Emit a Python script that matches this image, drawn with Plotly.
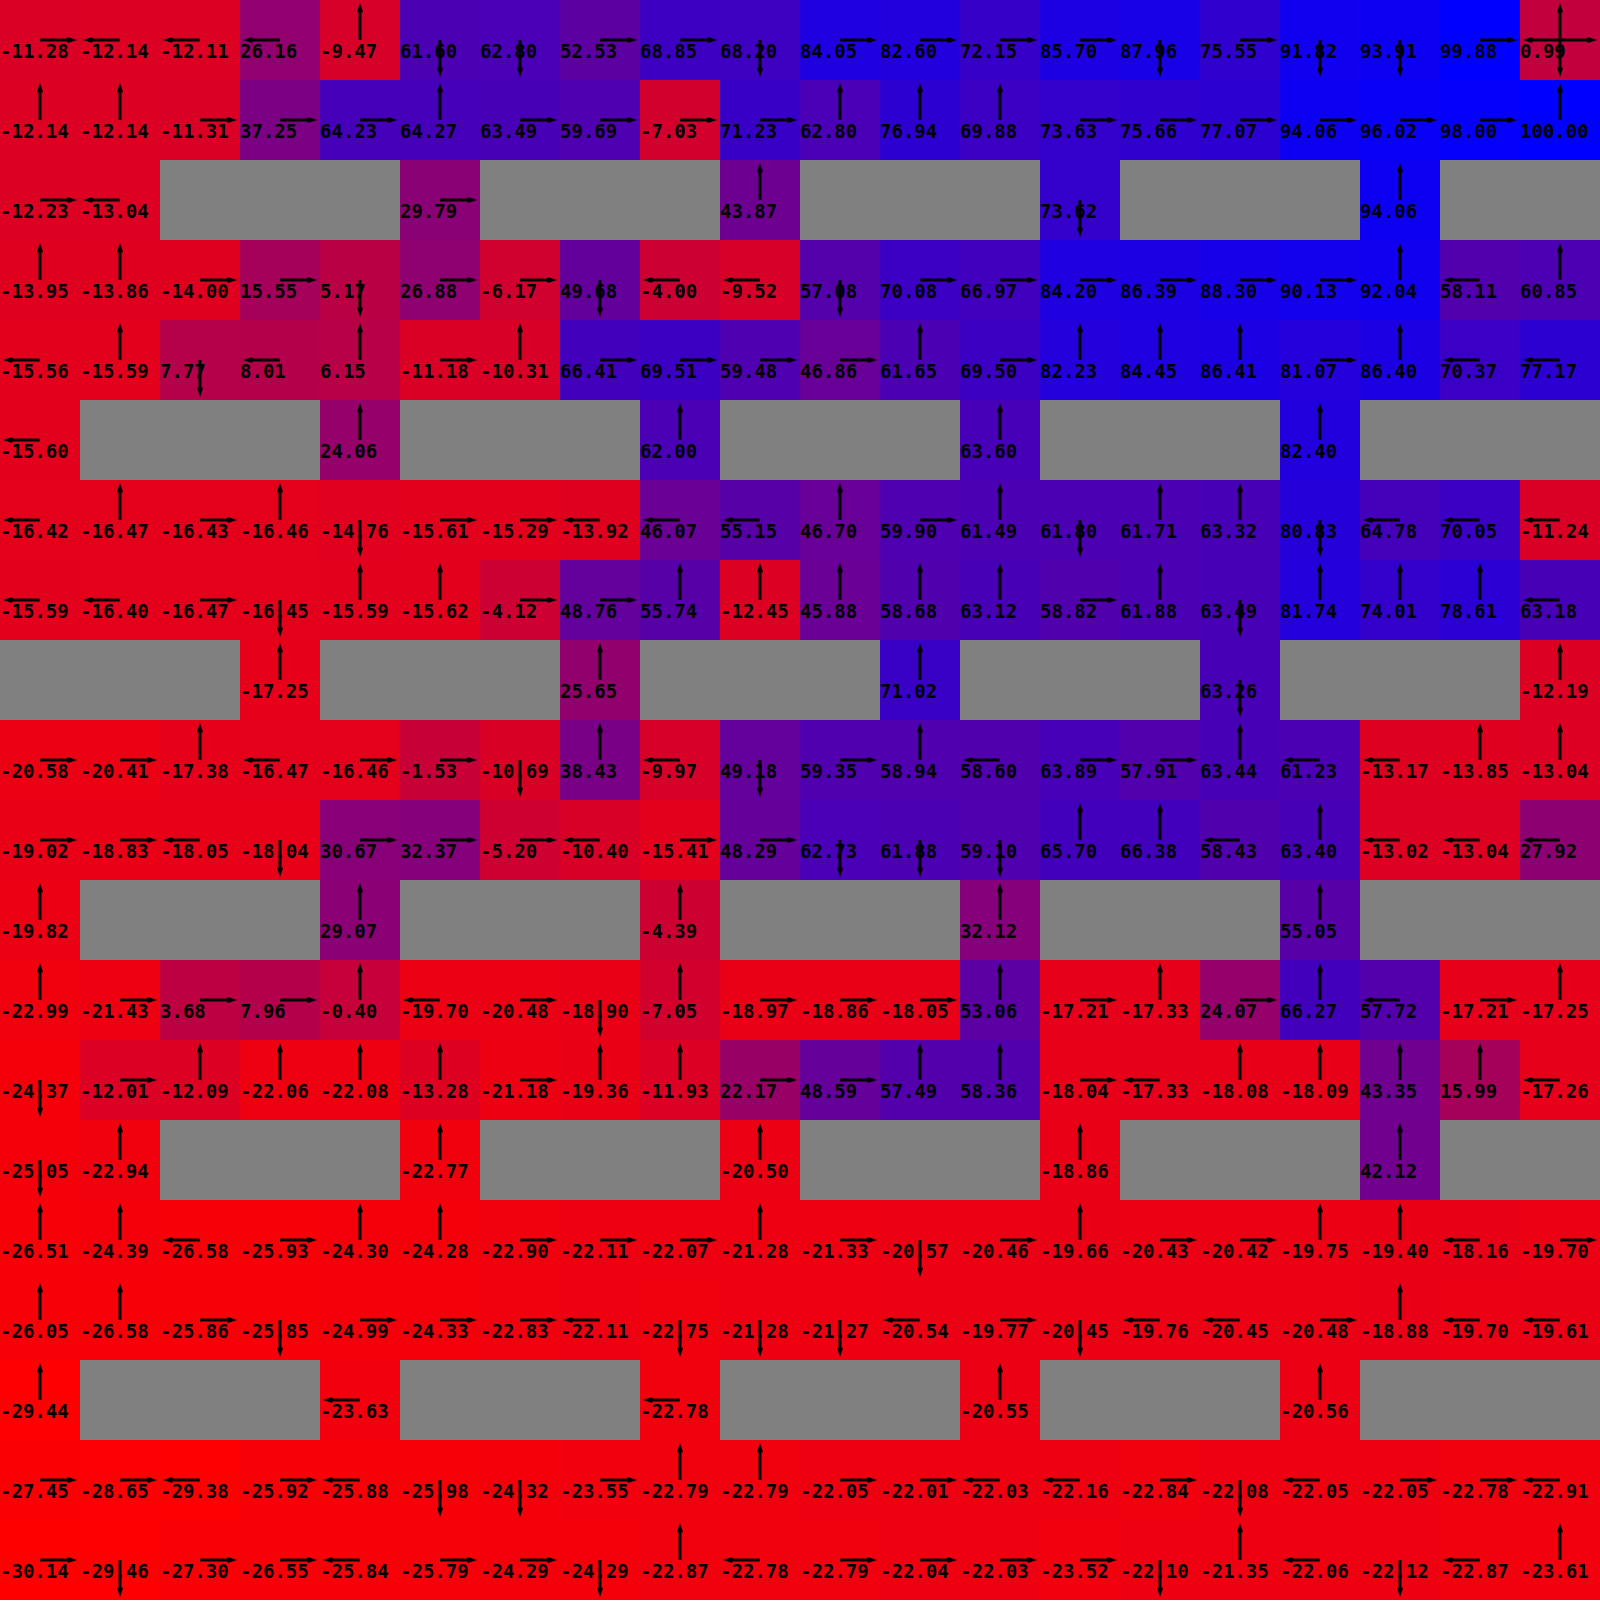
import plotly.graph_objects as go

# State values (None = wall), rows top to bottom
VALUES = [
    [-11.28, -12.14, -12.11, 26.16, -9.47, 61.60, 62.80, 52.53, 68.85, 68.20, 84.05, 82.60, 72.15, 85.70, 87.96, 75.55, 91.82, 93.91, 99.88, 0.99],
    [-12.14, -12.14, -11.31, 37.25, 64.23, 64.27, 63.49, 59.69, -7.03, 71.23, 62.80, 76.94, 69.88, 73.63, 75.66, 77.07, 94.06, 96.02, 98.00, 100.00],
    [-12.23, -13.04, None, None, None, 29.79, None, None, None, 43.87, None, None, None, 73.62, None, None, None, 94.06, None, None],
    [-13.95, -13.86, -14.00, 15.55, 5.17, 26.88, -6.17, 49.68, -4.00, -9.52, 57.08, 70.08, 66.97, 84.20, 86.39, 88.30, 90.13, 92.04, 58.11, 60.85],
    [-15.56, -15.59, 7.77, 8.01, 6.15, -11.18, -10.31, 66.41, 69.51, 59.48, 46.86, 61.65, 69.50, 82.23, 84.45, 86.41, 81.07, 86.40, 70.37, 77.17],
    [-15.60, None, None, None, 24.06, None, None, None, 62.00, None, None, None, 63.60, None, None, None, 82.40, None, None, None],
    [-16.42, -16.47, -16.43, -16.46, -14.76, -15.61, -15.29, -13.92, 46.07, 55.15, 46.70, 59.90, 61.49, 61.80, 61.71, 63.32, 80.83, 64.78, 70.05, -11.24],
    [-15.59, -16.40, -16.47, -16.45, -15.59, -15.62, -4.12, 48.76, 55.74, -12.45, 45.88, 58.68, 63.12, 58.82, 61.88, 63.49, 81.74, 74.01, 78.61, 63.18],
    [None, None, None, -17.25, None, None, None, 25.65, None, None, None, 71.02, None, None, None, 63.26, None, None, None, -12.19],
    [-20.58, -20.41, -17.38, -16.47, -16.46, -1.53, -10.69, 38.43, -9.97, 49.18, 59.35, 58.94, 58.60, 63.89, 57.91, 63.44, 61.23, -13.17, -13.85, -13.04],
    [-19.02, -18.83, -18.05, -18.04, 30.67, 32.37, -5.20, -10.40, -15.41, 48.29, 62.73, 61.88, 59.10, 65.70, 66.38, 58.43, 63.40, -13.02, -13.04, 27.92],
    [-19.82, None, None, None, 29.07, None, None, None, -4.39, None, None, None, 32.12, None, None, None, 55.05, None, None, None],
    [-22.99, -21.43, 3.68, 7.96, -0.40, -19.70, -20.48, -18.90, -7.05, -18.97, -18.86, -18.05, 53.06, -17.21, -17.33, 24.07, 66.27, 57.72, -17.21, -17.25],
    [-24.37, -12.01, -12.09, -22.06, -22.08, -13.28, -21.18, -19.36, -11.93, 22.17, 48.59, 57.49, 58.36, -18.04, -17.33, -18.08, -18.09, 43.35, 15.99, -17.26],
    [-25.05, -22.94, None, None, None, -22.77, None, None, None, -20.50, None, None, None, -18.86, None, None, None, 42.12, None, None],
    [-26.51, -24.39, -26.58, -25.93, -24.30, -24.28, -22.90, -22.11, -22.07, -21.28, -21.33, -20.57, -20.46, -19.66, -20.43, -20.42, -19.75, -19.40, -18.16, -19.70],
    [-26.05, -26.58, -25.86, -25.85, -24.99, -24.33, -22.83, -22.11, -22.75, -21.28, -21.27, -20.54, -19.77, -20.45, -19.76, -20.45, -20.48, -18.88, -19.70, -19.61],
    [-29.44, None, None, None, -23.63, None, None, None, -22.78, None, None, None, -20.55, None, None, None, -20.56, None, None, None],
    [-27.45, -28.65, -29.38, -25.92, -25.88, -25.98, -24.32, -23.55, -22.79, -22.79, -22.05, -22.01, -22.03, -22.16, -22.84, -22.08, -22.05, -22.05, -22.78, -22.91],
    [-30.14, -29.46, -27.30, -26.55, -25.84, -25.79, -24.29, -24.29, -22.87, -22.78, -22.79, -22.04, -22.03, -23.52, -22.10, -21.35, -22.06, -22.12, -22.87, -23.61],
]

# Greedy policy per cell: U/D/L/R, A = all four, # = wall
POLICY = [
    "RLLLUDDRRDRRRRDRDDRA",
    "UURRRURRRRUUURRRRRRU",
    "RL###R###U###D###U##",
    "UURRDRRDLLDRRRRRRULU",
    "LUDLURURRRRURUUURULL",
    "L###U###U###U###U###",
    "LURUDRRLLLURUDUUDLLL",
    "LLRDUURRUUUUURUDUUUL",
    "###U###U###U###D###U",
    "RRULRRDULDRULRRULLUU",
    "RRLDRRRLRRDDDUULULLL",
    "U###U###U###U###U###",
    "URRRULRDURRRURURULRU",
    "DRUUUURUURRUURLUUUUL",
    "DU###U###U###U###U##",
    "UULRUURRRURDRURRUULR",
    "UURDRRRLDDDLRDLLRULL",
    "U###L###L###U###U###",
    "RRLRLDDRUURRLLRDLRRL",
    "RDRRLRRDULRRRRDULDLU",
]

N = len(VALUES)
flat = [v for row in VALUES for v in row if v is not None]
ZMIN, ZMAX = min(flat), max(flat)

fig = go.Figure()
fig.add_trace(go.Heatmap(
    z=VALUES, x=list(range(N)), y=list(range(N)),
    zmin=ZMIN, zmax=ZMAX,
    colorscale=[[0, "rgb(255,0,0)"], [1, "rgb(0,0,255)"]],
    showscale=False, hoverinfo="skip", xgap=0, ygap=0,
))

# value labels
tx, ty, tt = [], [], []
for r, row in enumerate(VALUES):
    for c, v in enumerate(row):
        if v is None:
            continue
        tx.append(c - 0.5)
        ty.append(r + 0.17)
        tt.append(f"{v:.2f}")
fig.add_trace(go.Scatter(
    x=tx, y=ty, text=tt, mode="text", textposition="middle right",
    textfont=dict(family="DejaVu Sans Mono", size=19, color="black", weight="bold"),
    hoverinfo="skip", showlegend=False,
))

# arrows
L = 0.465
DIRS = {"U": (0, -1, 0), "D": (0, 1, 180), "L": (-1, 0, 270), "R": (1, 0, 90)}
lx, ly, hx, hy, ha = [], [], [], [], []
for r, s in enumerate(POLICY):
    for c, ch in enumerate(s):
        if ch == "#":
            continue
        dirs = "UDLR" if ch == "A" else ch
        for d in dirs:
            dx, dy, ang = DIRS[d]
            lx += [c, c + dx * (L - 0.06), None]
            ly += [r, r + dy * (L - 0.06), None]
            hx.append(c + dx * L)
            hy.append(r + dy * L)
            ha.append(ang)
fig.add_trace(go.Scatter(
    x=lx, y=ly, mode="lines", line=dict(color="black", width=3),
    hoverinfo="skip", showlegend=False,
))
fig.add_trace(go.Scatter(
    x=hx, y=hy, mode="markers",
    marker=dict(symbol="arrow", size=10, angle=ha, color="black", line=dict(width=0)),
    hoverinfo="skip", showlegend=False,
))

fig.update_layout(
    width=1600, height=1600,
    margin=dict(l=0, r=0, t=0, b=0),
    plot_bgcolor="rgb(128,128,128)", paper_bgcolor="white",
    xaxis=dict(range=[-0.5, N - 0.5], visible=False, fixedrange=True),
    yaxis=dict(range=[N - 0.5, -0.5], visible=False, fixedrange=True),
    showlegend=False,
)

fig.write_html("out.html", config={"displayModeBar": False},
               post_script="document.body.style.margin='0';")
